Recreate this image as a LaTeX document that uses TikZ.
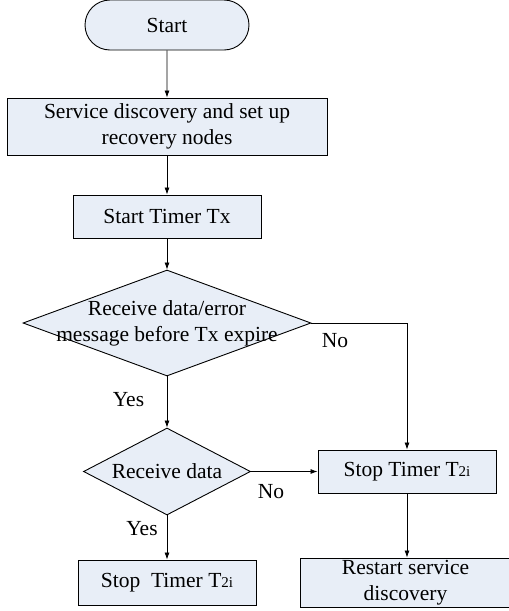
\documentclass[tikz,border=0pt]{standalone}
\usepackage{fontspec}
\setmainfont{Liberation Serif}
\usetikzlibrary{shapes.geometric,shapes.misc,arrows.meta}

\definecolor{boxfill}{RGB}{232,238,247}
\newcommand{\tsub}[1]{{\fontsize{15}{15}\selectfont #1}}

\tikzset{
  every node/.style={font=\fontsize{21.5}{26}\selectfont},
  terminal/.style={rounded rectangle,draw,fill=boxfill,line width=0.9pt,
    inner sep=0pt,minimum width=164pt,minimum height=50pt},
  process/.style={rectangle,draw,fill=boxfill,line width=0.9pt,
    inner sep=0pt,align=center},
  decision/.style={diamond,draw,fill=boxfill,line width=0.9pt,inner sep=0pt},
  flow/.style={line width=0.8pt,-{Latex[length=7pt,width=5pt]}}
}

\begin{document}
\begin{tikzpicture}[x=1pt,y=-1pt]
\useasboundingbox (0,0) rectangle (509,611);

\coordinate (m0) at (167,25);
\coordinate (m1) at (167,126.5);
\coordinate (m2) at (167,216.5);
\coordinate (m3) at (167,323);
\coordinate (m4) at (167,471.5);
\coordinate (m5) at (407,471.5);
\coordinate (m6) at (167,582.5);
\coordinate (m7) at (405.5,582.5);

  \node[terminal] (start) at (m0) {Start};
  \node[process,minimum width=320pt,minimum height=57pt] (svc) at (m1)
    {Service discovery and set up\\recovery nodes};
  \node[process,minimum width=188pt,minimum height=43pt] (timer) at (m2)
    {Start Timer Tx};
  \node[decision,minimum width=288pt,minimum height=106pt,
    label={[align=center]center:Receive data/error\\message before Tx expire}]
    (recv) at (m3) {};
  \node[decision,minimum width=167pt,minimum height=87pt,
    label={center:Receive data}] (data) at (m4) {};
  \node[process,minimum width=178pt,minimum height=43pt] (stopR) at (m5)
    {Stop Timer T\tsub{2i}};
  \node[process,minimum width=178pt,minimum height=45pt] (stopL) at (m6)
    {Stop~~Timer T\tsub{2i}};
  \node[process,minimum width=211pt,minimum height=49pt] (restart) at (m7)
    {Restart service\\discovery};

  \draw[flow] (start) -- (svc);
  \draw[flow] (svc) -- (timer);
  \draw[flow] (timer) -- (recv);
  \draw[flow] (recv) -- (data);
  \draw[flow] (recv.east) -| (stopR.north);
  \draw[flow] (data.east) -- (stopR.west);
  \draw[flow] (data) -- (stopL);
  \draw[flow] (stopR.south) -- (stopR.south |- restart.north);

  \node (yes1) at (128.5,400) {Yes};
  \node (no1) at (335,341) {No};
  \node (no2) at (271,492) {No};
  \node (yes2) at (142,529) {Yes};
\end{tikzpicture}
\end{document}
